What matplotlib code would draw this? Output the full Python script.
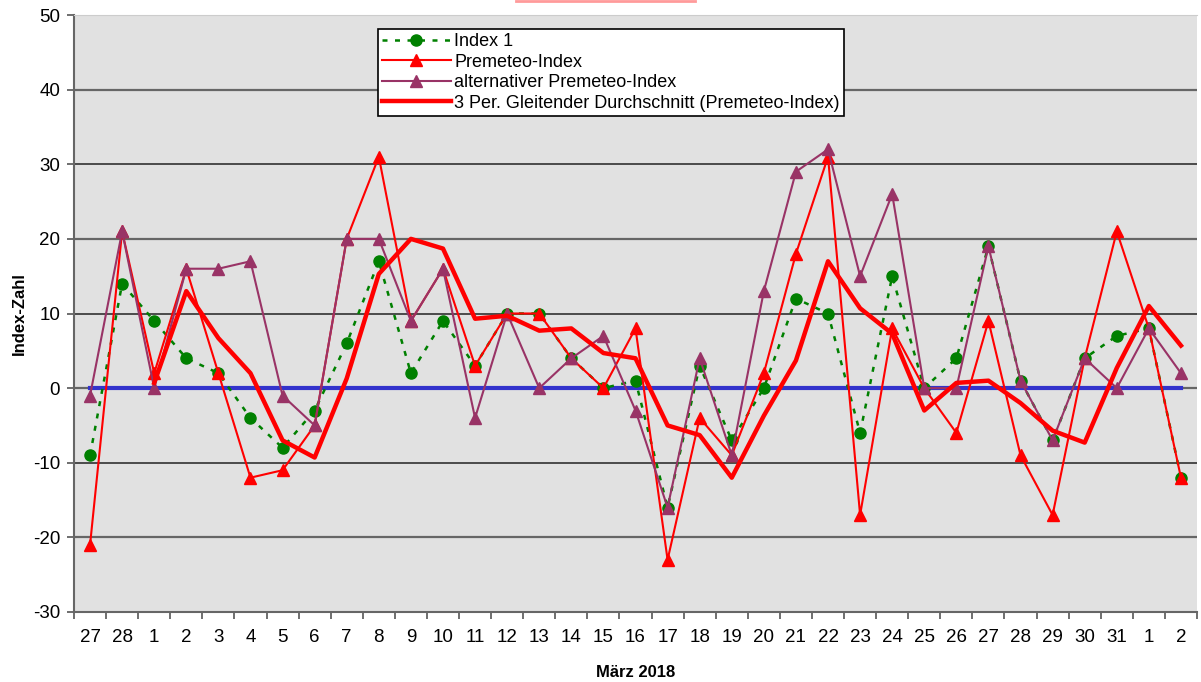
import matplotlib
matplotlib.use("Agg")
import matplotlib.pyplot as plt
from matplotlib.lines import Line2D

plt.rcParams["font.family"] = ["Liberation Sans", "DejaVu Sans"]
plt.rcParams["axes.unicode_minus"] = False

# ---- Data ----
days = ["27", "28"] + [str(d) for d in range(1, 32)] + ["1", "2"]

index1 = [-9, 14, 9, 4, 2, -4, -8, -3, 6, 17, 2, 9, 3, 10, 10, 4, 0, 1,
          -16, 3, -7, 0, 12, 10, -6, 15, 0, 4, 19, 1, -7, 4, 7, 8, -12]
premeteo = [-21, 21, 2, 16, 2, -12, -11, -5, 20, 31, 9, 16, 3, 10, 10, 4, 0, 8,
            -23, -4, -9, 2, 18, 31, -17, 8, 0, -6, 9, -9, -17, 4, 21, 8, -12]
alt_premeteo = [-1, 21, 0, 16, 16, 17, -1, -5, 20, 20, 9, 16, -4, 10, 0, 4, 7, -3,
                -16, 4, -9, 13, 29, 32, 15, 26, 0, 0, 19, 1, -7, 4, 0, 8, 2]
# 3 Per. gleitender Durchschnitt (starts at the 3rd point)
moving_avg = [None, None, 0.7, 13.0, 6.7, 2.0, -7.0, -9.3, 1.3, 15.3, 20.0, 18.7,
              9.3, 9.7, 7.7, 8.0, 4.7, 4.0, -5.0, -6.3, -12.0, -3.7, 3.7, 17.0,
              10.7, 7.3, -3.0, 0.7, 1.0, -2.0, -5.7, -7.3, 2.7, 11.0, 5.7]
zero_line = [0] * len(days)

x = list(range(len(days)))
ma_x = [i for i, v in zip(x, moving_avg) if v is not None]
ma_y = [v for v in moving_avg if v is not None]

GREEN = "#008000"
RED = "#ff0000"
PLUM = "#993366"
BLUE = "#3333cc"

# ---- Figure ----
fig = plt.figure(figsize=(12.01, 6.82), dpi=100)
ax = fig.add_axes([74 / 1201, 70 / 682, 1123 / 1201, 597 / 682])
ax.set_facecolor("#e1e1e1")

for yv in range(-20, 50, 10):
    ax.axhline(yv, color="#222222" if yv % 20 else "#666666",
               linewidth=1.1 if yv % 20 else 1.6, zorder=1)

ax.plot(x, zero_line, color=BLUE, linewidth=3, zorder=2)
ax.plot(x, index1, color=GREEN, linestyle=(0, (2, 3)), linewidth=1.8,
        marker="o", markersize=8, label="Index 1", zorder=3)
ax.plot(x, premeteo, color=RED, linewidth=1.5, marker="^", markersize=9,
        label="Premeteo-Index", zorder=4)
ax.plot(x, alt_premeteo, color=PLUM, linewidth=1.5, marker="^", markersize=9,
        label="alternativer Premeteo-Index", zorder=5)
ax.plot(ma_x, ma_y, color=RED, linewidth=3.2,
        label="3 Per. Gleitender Durchschnitt (Premeteo-Index)", zorder=6)

ax.set_xlim(-0.5, len(days) - 0.5)
ax.set_ylim(-30, 50)
ax.set_yticks(range(-30, 51, 10))
ax.set_xticks(x)
ax.set_xticklabels(days)
ax.set_xticks([i - 0.5 for i in range(len(days) + 1)], minor=True)
ax.tick_params(axis="x", which="major", length=0, pad=12, labelsize=13.5)
ax.tick_params(axis="x", which="minor", length=5, width=1.2, color="#555555")
ax.tick_params(axis="y", length=5, width=1.2, color="#555555", labelsize=13.5, pad=5)

ax.spines["right"].set_visible(False)
ax.spines["top"].set_color("#cccccc")
ax.spines["left"].set_color("#666666")
ax.spines["bottom"].set_color("#666666")
ax.spines["left"].set_linewidth(1.5)
ax.spines["bottom"].set_linewidth(1.5)

ax.set_ylabel("Index-Zahl", fontsize=12, fontweight="bold", labelpad=4)
ax.set_xlabel("März 2018", fontsize=12, fontweight="bold", labelpad=14)

leg = ax.legend(loc="upper left", bbox_to_anchor=(304 / 1123, 583 / 597),
                borderaxespad=0, fontsize=13, frameon=True, fancybox=False,
                edgecolor="black", framealpha=1, handlelength=3.8,
                labelspacing=0.2, handletextpad=0.2, borderpad=0.22)
leg.get_frame().set_linewidth(1.2)

# clipped title frame at the very top
fig.add_artist(Line2D([516 / 1201, 695 / 1201], [0.999, 0.999],
                      transform=fig.transFigure, color="#ff9a9a", linewidth=2))

fig.savefig("out.png", dpi=100, facecolor="white")
plt.close(fig)
